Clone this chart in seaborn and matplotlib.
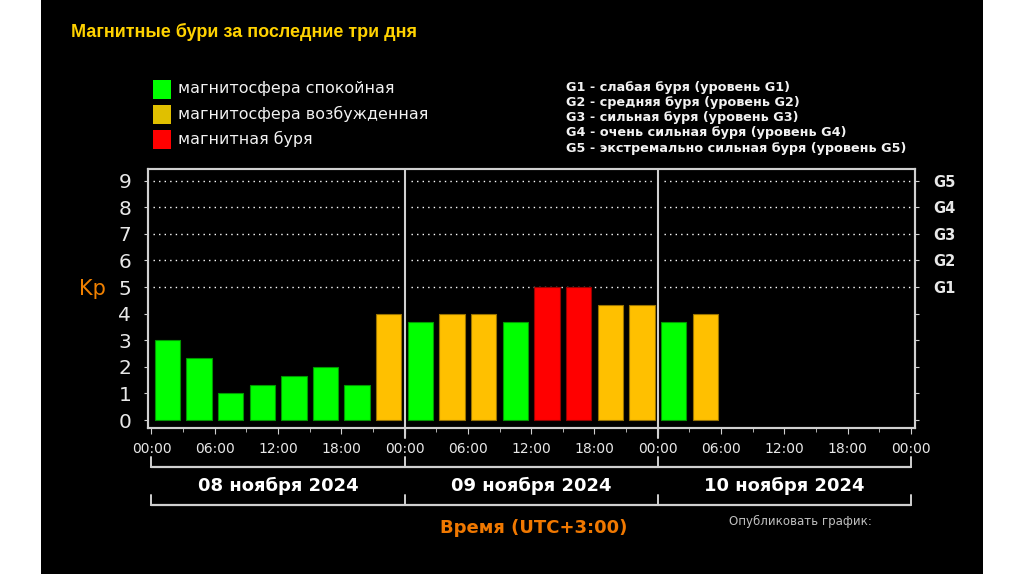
import seaborn as sns
import pandas as pd
import matplotlib.pyplot as plt
import matplotlib.transforms as mtransforms
import matplotlib.colors as mcolors
from matplotlib.patches import Rectangle

# --- Data ---
kp_values = [3.0, 2.33, 1.0, 1.33, 1.67, 2.0, 1.33, 4.0,
             3.67, 4.0, 4.0, 3.67, 5.0, 5.0, 4.33, 4.33,
             3.67, 4.0]
kp_state = ["calm", "calm", "calm", "calm", "calm", "calm", "calm", "excited",
            "calm", "excited", "excited", "calm", "storm", "storm", "excited", "excited",
            "calm", "excited"]
days = ["08 ноября 2024", "09 ноября 2024", "10 ноября 2024"]
hour_labels = ["00:00", "06:00", "12:00", "18:00"]
slots_per_day = 8
g_levels = ["G1", "G2", "G3", "G4", "G5"]
g_descriptions = [
    "G1 - слабая буря (уровень G1)",
    "G2 - средняя буря (уровень G2)",
    "G3 - сильная буря (уровень G3)",
    "G4 - очень сильная буря (уровень G4)",
    "G5 - экстремально сильная буря (уровень G5)",
]
legend_labels = ["магнитосфера спокойная", "магнитосфера возбужденная", "магнитная буря"]
legend_colors = ["#00FF00", "#E0C000", "#FF0000"]
bar_palette = {"calm": "#00FF00", "excited": "#FFC000", "storm": "#FF0000"}

title = "Магнитные бури за последние три дня"
time_label = "Время (UTC+3:00)"
publish_label = "Опубликовать график:"

# --- Styling ---
W, H = 1024, 574
grey = "#d0d0d0"
sns.set_style("ticks")
plt.rcParams["font.family"] = ["DejaVu Sans"]

df = pd.DataFrame({
    "slot": [i + 0.5 for i in range(len(kp_values))],
    "kp": kp_values,
    "state": kp_state,
})

fig = plt.figure(figsize=(W / 100, H / 100), dpi=100, facecolor="white")
fig.patches.append(Rectangle((41 / W, 0), (983 - 41) / W, 1, transform=fig.transFigure,
                             facecolor="black", edgecolor="none", zorder=-5))

ax = fig.add_axes([148 / W, 1 - 428 / H, (915 - 148) / W, (428 - 169) / H])
ax.set_facecolor("black")

n_slots = slots_per_day * len(days)
ax.set_xlim(-0.11, n_slots + 0.13)
ax.set_ylim(-0.30, 9.44)

# dotted grid lines per day block
for d in range(len(days)):
    x0 = d * slots_per_day + (0.05 if d == 0 else 0.2)
    x1 = (d + 1) * slots_per_day - 0.15 if d < len(days) - 1 else n_slots + 0.1
    ax.hlines(range(5, 10), x0, x1, colors="white", linewidth=1,
              linestyles=(0, (1, 3)), zorder=1)

sns.barplot(data=df, x="slot", y="kp", hue="state", palette=bar_palette,
            native_scale=True, dodge=False, width=0.8, saturation=1,
            errorbar=None, legend=False, ax=ax, zorder=2)
for p in ax.patches:
    fc = mcolors.to_rgb(p.get_facecolor())
    p.set_edgecolor(tuple(c * 0.6 for c in fc))
    p.set_linewidth(0.8)

ax.set_xlabel("")
ax.set_ylabel("")

# day separators
for d in range(1, len(days)):
    ax.axvline(d * slots_per_day, ymin=-10 / 259, ymax=1, color=grey, linewidth=1.5,
               clip_on=False, zorder=3)

# ticks
ax.set_yticks(range(10))
ax.set_yticklabels([str(i) for i in range(10)])
ax.tick_params(axis="y", color=grey, labelcolor="#e8e8e8", labelsize=14.5, length=3, pad=9)
ax.set_xticks(range(0, n_slots + 1, 2))
ax.set_xticklabels((hour_labels * len(days)) + [hour_labels[0]])
ax.set_xticks(range(1, n_slots, 2), minor=True)
ax.tick_params(axis="x", which="major", color=grey, labelcolor="#e8e8e8", labelsize=10,
               length=4, pad=6)
ax.tick_params(axis="x", which="minor", color=grey, length=3)

ax2 = ax.twinx()
ax2.set_ylim(ax.get_ylim())
ax2.set_yticks(range(10))
ax2.set_yticklabels([""] * 5 + g_levels)
ax2.tick_params(axis="y", color=grey, labelcolor="#e8e8e8", labelsize=10.5, length=3, pad=10)
for lbl in ax2.get_yticklabels():
    lbl.set_fontweight("bold")

for a in (ax, ax2):
    for s in a.spines.values():
        s.set_color(grey)
        s.set_linewidth(1.5)

# brackets and date labels under the axis
trans = mtransforms.blended_transform_factory(ax.transData, fig.transFigure)
bounds = [d * slots_per_day for d in range(len(days) + 1)]
for y_top, y_line in [(457, 467), (495, 505)]:
    ax.plot([bounds[0], bounds[-1]], [1 - y_line / H] * 2, transform=trans,
            color=grey, linewidth=1.6, clip_on=False)
    for b in bounds:
        ax.plot([b, b], [1 - y_top / H, 1 - y_line / H], transform=trans,
                color=grey, linewidth=1.4, clip_on=False)
for d, day in enumerate(days):
    ax.text(d * slots_per_day + slots_per_day / 2, 1 - 486 / H, day, transform=trans,
            ha="center", va="center", color="white", fontsize=13, fontweight="bold")

# texts
fig.text(71 / W, 1 - 32 / H, title, ha="left", va="center", fontsize=13,
         fontweight="bold", family=["Liberation Sans", "DejaVu Sans"], color="#FFD200")
for i, (lab, col) in enumerate(zip(legend_labels, legend_colors)):
    yc = 89 + 25 * i
    fig.patches.append(Rectangle((153 / W, 1 - (yc + 9.5) / H), 18 / W, 19 / H,
                                 transform=fig.transFigure, facecolor=col,
                                 edgecolor="none", zorder=2))
    fig.text(178 / W, 1 - yc / H, lab, ha="left", va="center", fontsize=11.4,
             color="#f2f2f2")
for i, desc in enumerate(g_descriptions):
    fig.text(566 / W, 1 - (87 + 15.3 * i) / H, desc, ha="left", va="center",
             fontsize=9.2, fontweight="bold", color="#f2f2f2")

fig.text(92 / W, 1 - 289 / H, "Kp", ha="center", va="center", fontsize=15,
         color="#F08000")
fig.text(534 / W, 1 - 528 / H, time_label, ha="center", va="center", fontsize=13,
         fontweight="bold", color="#F07800")
fig.text(729 / W, 1 - 521 / H, publish_label, ha="left", va="center", fontsize=8.5,
         color="#c0c0c0")

fig.savefig("out.png", dpi=100, facecolor=fig.get_facecolor())
